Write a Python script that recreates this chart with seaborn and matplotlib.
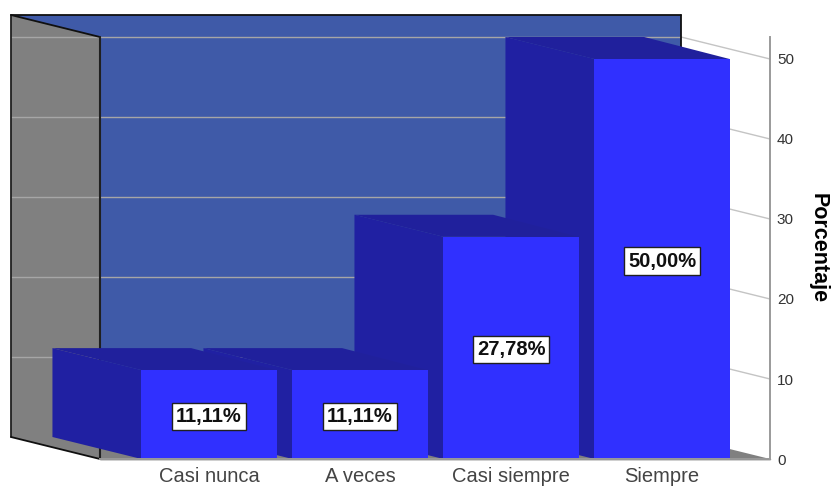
import matplotlib
matplotlib.use("Agg")
import matplotlib.pyplot as plt
from matplotlib.patches import Polygon
from matplotlib.lines import Line2D
from matplotlib.transforms import IdentityTransform
import pandas as pd
import seaborn as sns

categories = ["Casi nunca", "A veces", "Casi siempre", "Siempre"]
percentages = [11.11, 11.11, 27.78, 50.00]
value_labels = ["11,11%", "11,11%", "27,78%", "50,00%"]
y_ticks = [0, 10, 20, 30, 40, 50]

FRONT = "#3030FF"
SIDE = "#2020A2"
TOP = "#20209C"
WALL = "#3F5AA8"
GRAY = "#808080"
GRID = "#A6A6A6"
AXIS = "#9A9A9A"
DEPTH_X, DEPTH_Y = 89, 22
BACK_WIDEN = 3.5
W, H = 835, 490

sns.set_theme(style="white")
plt.rcParams["font.family"] = ["Liberation Sans", "DejaVu Sans"]

fig = plt.figure(figsize=(W / 100, H / 100), dpi=100)
ax = fig.add_axes([100 / W, (H - 459) / H, 670 / W, 422 / H])
df = pd.DataFrame({"cat": categories, "pct": percentages})
sns.barplot(data=df, x="cat", y="pct", order=categories, color=FRONT,
            saturation=1, width=0.895, ax=ax, zorder=11)
ax.set_xlim(-0.722, 3.715)
ax.set_ylim(0, 52.75)
ax.patch.set_visible(False)
fig.canvas.draw()


def px(x, y, depth=0.0, widen=0.0):
    X, Y = ax.transData.transform((x, y))
    return (X - depth * DEPTH_X + widen, Y + depth * DEPTH_Y)


def poly(points, fc, z, ec="none", lw=0.0):
    ax.add_patch(Polygon(points, closed=True, fc=fc, ec=ec, lw=lw, zorder=z,
                         transform=IdentityTransform(), clip_on=False))


def seg(p, q, color, z, lw=1.2):
    ax.add_line(Line2D([p[0], q[0]], [p[1], q[1]], color=color, lw=lw, zorder=z,
                       transform=IdentityTransform(), clip_on=False))


xl, xr = ax.get_xlim()
yb, yt = ax.get_ylim()

# Back wall, side wall and floor of the 3-D frame
poly([px(xl, yb, 1), px(xr, yb, 1), px(xr, yt, 1), px(xl, yt, 1)], WALL, 1)
poly([px(xl, yb, 1), px(xl, yb), px(xl, yt), px(xl, yt, 1)], GRAY, 2)
poly([px(xl, yb, 1), px(xr, yb, 1), px(xr, yb), px(xl, yb)], GRAY, 2)

for t in y_ticks[1:]:
    seg(px(xl, t, 1), px(xr, t, 1), GRID, 3, 1.0)
    seg(px(xr, t, 1), px(xr, t), "#C4C4C4", 3, 1.0)

seg(px(xl, yt, 1), px(xr, yt, 1), "#101010", 4, 1.3)
seg(px(xr, yt, 1), px(xr, yb, 1), "#101010", 4, 1.3)
seg(px(xl, yt, 1), px(xl, yb, 1), "#202020", 4, 1.3)
seg(px(xl, yt, 1), px(xl, yt), "#101010", 4, 1.3)
seg(px(xl, yt), px(xl, yb), "#202020", 4, 1.5)
seg(px(xl, yb, 1), px(xl, yb), "#101010", 4, 1.3)
seg(px(xl, yb), px(xr, yb), "#101010", 4, 1.0)

# Extruded sides of each bar, right-most furthest back
for i, bar in enumerate(ax.patches[:len(categories)]):
    x0, x1 = bar.get_x(), bar.get_x() + bar.get_width()
    h = bar.get_height()
    order = 2 * (len(categories) - i)
    bar.set_zorder(11 + order)
    bar.set_edgecolor("none")
    poly([px(x0, 0, 1), px(x0, 0), px(x0, h), px(x0, h, 1)], SIDE, 10 + order)
    poly([px(x0, h, 1), px(x1, h, 1, BACK_WIDEN), px(x1, h), px(x0, h)], TOP, 10 + order)
    ax.text(bar.get_x() + bar.get_width() / 2, h / 2, value_labels[i],
            ha="center", va="center_baseline", fontsize=14.5, fontweight="bold",
            color="#101010", zorder=40,
            bbox=dict(boxstyle="square,pad=0.2", fc="white", ec="#202020", lw=1.0))

# Axes
ax.yaxis.tick_right()
ax.yaxis.set_label_position("right")
ax.set_yticks(y_ticks)
ax.set_xlabel("")
ax.set_ylabel("Porcentaje", rotation=270, fontsize=15.5, fontweight="bold",
              color="black")
ax.yaxis.set_label_coords(1.088, 0.5)
ax.tick_params(axis="y", length=0, pad=5, labelsize=11, labelcolor="#333333")
ax.tick_params(axis="x", length=0, pad=6, labelsize=14.5, labelcolor="#444444")
for side in ("top", "left"):
    ax.spines[side].set_visible(False)
for side in ("right", "bottom"):
    ax.spines[side].set_visible(True)
    ax.spines[side].set_color(AXIS)
    ax.spines[side].set_linewidth(1.4)
    ax.spines[side].set_zorder(35)

fig.savefig("out.png", dpi=100, facecolor="white")
